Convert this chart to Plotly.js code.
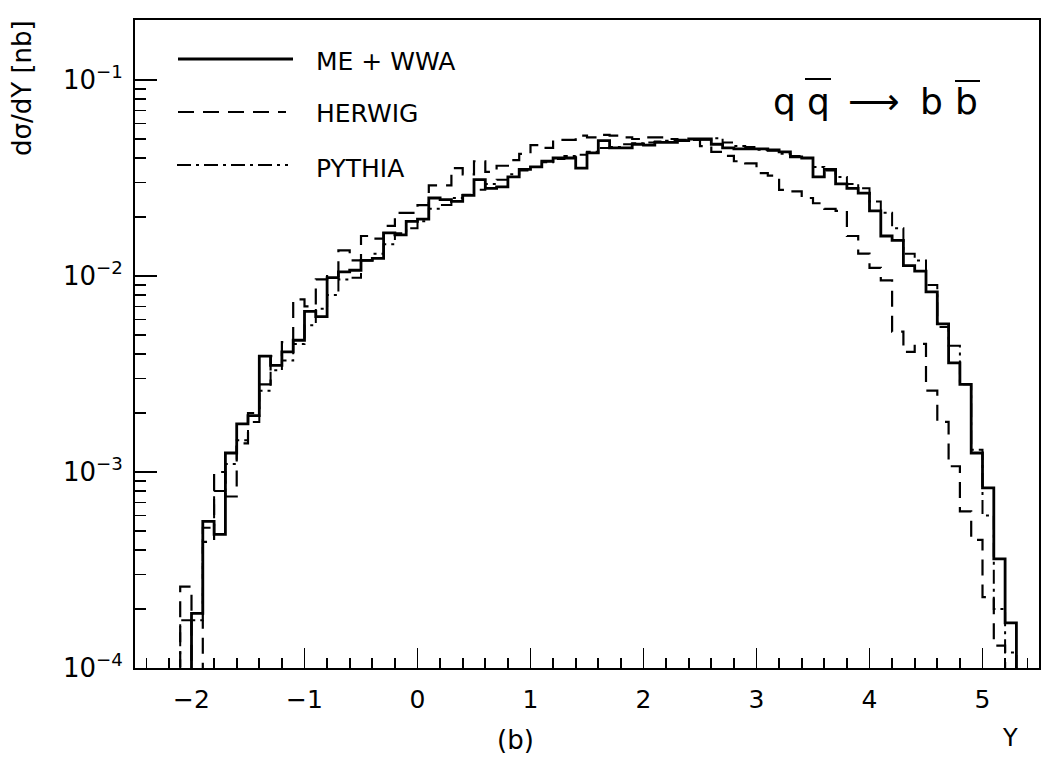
<!DOCTYPE html>
<html>
<head>
<meta charset="utf-8">
<script src="https://cdn.plot.ly/plotly-3.0.1.min.js"></script>
<style>
  html, body { margin: 0; padding: 0; background: #fff; }
  #chart { width: 1048px; height: 774px; }
</style>
</head>
<body>
<div id="chart"></div>
<script>
// Rapidity distribution dσ/dY for q q̄ → b b̄, three generators, 0.1-wide bins
const binStart = -2.2;
const binWidth = 0.1;

// bin contents [nb], bins from -2.2 to 5.4 (0 = empty bin)
const meWwa = [
  0, 0, 1.9e-4, 5.6e-4, 4.8e-4, 1.25e-3, 1.76e-3, 1.94e-3, 3.9e-3, 3.5e-3,
  4.1e-3, 4.7e-3, 6.6e-3, 6.2e-3, 9.8e-3, 1.05e-2, 1.07e-2, 1.2e-2, 1.23e-2, 1.66e-2,
  1.62e-2, 1.9e-2, 1.95e-2, 2.5e-2, 2.45e-2, 2.4e-2, 2.58e-2, 3.1e-2, 2.8e-2, 2.85e-2,
  3.2e-2, 3.5e-2, 3.6e-2, 3.85e-2, 4.0e-2, 4.0e-2, 3.55e-2, 4.25e-2, 4.9e-2, 4.5e-2,
  4.5e-2, 4.7e-2, 4.65e-2, 4.8e-2, 4.8e-2, 4.9e-2, 5.0e-2, 5.0e-2, 4.7e-2, 4.5e-2,
  4.45e-2, 4.45e-2, 4.45e-2, 4.4e-2, 4.3e-2, 4.05e-2, 4.0e-2, 3.2e-2, 3.5e-2, 2.95e-2,
  2.8e-2, 2.65e-2, 2.15e-2, 1.6e-2, 1.52e-2, 1.13e-2, 1.06e-2, 8.3e-3, 5.7e-3, 3.6e-3,
  2.8e-3, 1.25e-3, 8.3e-4, 3.6e-4, 1.7e-4, 0
];
const herwig = [
  0, 2.6e-4, 0, 4.4e-4, 1.0e-3, 7.5e-4, 1.4e-3, 2.0e-3, 2.8e-3, 3.9e-3,
  4.6e-3, 7.6e-3, 7.0e-3, 9.6e-3, 1.0e-2, 1.35e-2, 1.2e-2, 1.6e-2, 1.55e-2, 1.8e-2,
  2.1e-2, 2.1e-2, 2.3e-2, 2.9e-2, 2.9e-2, 3.55e-2, 3.3e-2, 3.85e-2, 3.4e-2, 3.65e-2,
  3.9e-2, 4.2e-2, 4.65e-2, 4.5e-2, 4.95e-2, 4.95e-2, 5.2e-2, 5.1e-2, 5.25e-2, 5.2e-2,
  5.1e-2, 5.0e-2, 5.1e-2, 5.1e-2, 5.0e-2, 4.9e-2, 4.95e-2, 4.6e-2, 4.3e-2, 4.1e-2,
  3.85e-2, 3.75e-2, 3.35e-2, 3.25e-2, 2.75e-2, 2.7e-2, 2.5e-2, 2.35e-2, 2.2e-2, 2.15e-2,
  1.6e-2, 1.3e-2, 1.1e-2, 9.5e-3, 5.2e-3, 4.1e-3, 4.5e-3, 2.6e-3, 1.8e-3, 1.07e-3,
  6.3e-4, 4.5e-4, 2.3e-4, 1.3e-4, 0, 0
];
const pythia = [
  0, 1.75e-4, 1.75e-4, 5.2e-4, 8.0e-4, 1.1e-3, 1.45e-3, 1.8e-3, 2.6e-3, 3.3e-3,
  3.7e-3, 4.5e-3, 5.6e-3, 6.8e-3, 8.0e-3, 9.6e-3, 9.8e-3, 1.2e-2, 1.3e-2, 1.45e-2,
  1.65e-2, 1.75e-2, 1.9e-2, 2.2e-2, 2.3e-2, 2.5e-2, 2.6e-2, 2.75e-2, 2.95e-2, 3.1e-2,
  3.3e-2, 3.45e-2, 3.6e-2, 3.8e-2, 3.95e-2, 4.1e-2, 4.15e-2, 4.3e-2, 4.5e-2, 4.55e-2,
  4.7e-2, 4.75e-2, 4.8e-2, 4.85e-2, 4.9e-2, 4.95e-2, 5.0e-2, 4.95e-2, 5.05e-2, 4.8e-2,
  4.6e-2, 4.55e-2, 4.4e-2, 4.35e-2, 4.2e-2, 4.1e-2, 4.0e-2, 3.6e-2, 3.45e-2, 3.2e-2,
  2.95e-2, 2.8e-2, 2.4e-2, 2.1e-2, 1.75e-2, 1.3e-2, 1.2e-2, 9.0e-3, 5.5e-3, 4.4e-3,
  2.8e-3, 1.3e-3, 6.0e-4, 2.0e-4, 1.2e-4, 0
];

const seriesNames = ['ME + WWA', 'HERWIG', 'PYTHIA'];
const xTickVals = [-2, -1, 0, 1, 2, 3, 4, 5];
const xTickText = ['\u22122', '\u22121', '0', '1', '2', '3', '4', '5'];
const yTickVals = [1e-4, 1e-3, 1e-2, 1e-1];
const yTickText = ['10<sup>\u22124</sup>', '10<sup>\u22123</sup>', '10<sup>\u22122</sup>', '10<sup>\u22121</sup>'];

// empty bins are drawn far below the visible range so the step drops out of view
const FLOOR = 1e-7;

function stepTrace(values, name, dash, width) {
  const xs = [], ys = [];
  for (let i = 0; i <= values.length; i++) {
    xs.push(+(binStart + i * binWidth).toFixed(4));
    const v = values[Math.min(i, values.length - 1)];
    ys.push(v > 0 ? v : FLOOR);
  }
  return {
    type: 'scatter', mode: 'lines', name: name,
    x: xs, y: ys,
    line: { shape: 'hv', color: '#000', width: width, dash: dash },
    showlegend: false, hoverinfo: 'skip'
  };
}

const DASH = '16px,9px';
const DASHDOT = '14px,5px,3px,5px';
const W_SOLID = 2.8, W_DASH = 2.2, W_DASHDOT = 2;

const traces = [
  stepTrace(herwig, seriesNames[1], DASH, W_DASH),
  stepTrace(pythia, seriesNames[2], DASHDOT, W_DASHDOT),
  stepTrace(meWwa, seriesNames[0], 'solid', W_SOLID)
];

const fontFam = 'DejaVu Sans, Liberation Sans, Arial, sans-serif';

// plot-area geometry helpers (paper coordinates from pixel offsets)
const M = { l: 135, r: 9, t: 20, b: 106 };
const W = 1048 - M.l - M.r, H = 774 - M.t - M.b;
const px = x => (x - M.l) / W;
const py = y => 1 - (y - M.t) / H;

const legendRows = [
  { name: seriesNames[0], dash: 'solid', width: W_SOLID, x0: 178, x1: 293, y: 59, ty: 62 },
  { name: seriesNames[1], dash: DASH, width: W_DASH, x0: 178, x1: 286, y: 112, ty: 114 },
  { name: seriesNames[2], dash: DASHDOT, width: W_DASHDOT, x0: 177, x1: 288, y: 165, ty: 168 }
];

const shapes = [];
const annotations = [];
legendRows.forEach(r => {
  shapes.push({
    type: 'line', xref: 'paper', yref: 'paper',
    x0: px(r.x0), x1: px(r.x1), y0: py(r.y), y1: py(r.y),
    line: { color: '#000', width: r.width, dash: r.dash }
  });
  annotations.push({
    xref: 'paper', yref: 'paper', x: px(314), y: py(r.ty),
    xanchor: 'left', yanchor: 'middle', showarrow: false,
    text: r.name, font: { family: fontFam, size: 25, color: '#000' }
  });
});

// process label  q q̄ → b b̄
const procFont = { family: fontFam, size: 36, color: '#000' };
[['q', 784], ['q', 818], ['\u27F6', 874], ['b', 931], ['b', 966]].forEach(([t, x]) => {
  annotations.push({
    xref: 'paper', yref: 'paper', x: px(x), y: py(101),
    xanchor: 'center', yanchor: 'middle', showarrow: false,
    text: t, font: procFont
  });
});
// bars over the antiparticles
[[805, 831, 79], [955, 980, 81]].forEach(([a, b, y]) => {
  shapes.push({
    type: 'line', xref: 'paper', yref: 'paper',
    x0: px(a), x1: px(b), y0: py(y), y1: py(y),
    line: { color: '#000', width: 2 }
  });
});

// axis titles and panel tag
annotations.push({
  xref: 'paper', yref: 'paper', x: px(22), y: py(88),
  xanchor: 'center', yanchor: 'middle', showarrow: false, textangle: -90,
  text: 'd\u03C3/dY [nb]', font: { family: fontFam, size: 26, color: '#000' }
});
annotations.push({
  xref: 'paper', yref: 'paper', x: px(1010), y: py(738),
  xanchor: 'center', yanchor: 'middle', showarrow: false,
  text: 'Y', font: { family: fontFam, size: 24, color: '#000' }
});
annotations.push({
  xref: 'paper', yref: 'paper', x: px(515), y: py(740),
  xanchor: 'center', yanchor: 'middle', showarrow: false,
  text: '(b)', font: { family: fontFam, size: 26, color: '#000' }
});

const layout = {
  width: 1048, height: 774,
  margin: M,
  paper_bgcolor: '#fff', plot_bgcolor: '#fff',
  showlegend: false,
  font: { family: fontFam, color: '#000' },
  xaxis: {
    range: [-2.5, 5.5], showgrid: false, zeroline: false,
    showline: true, linecolor: '#000', linewidth: 2, mirror: true,
    tickmode: 'array', tickvals: xTickVals, ticktext: xTickText,
    ticks: 'inside', ticklen: 20, tickwidth: 1.6, tickcolor: '#000',
    ticklabelstandoff: 8,
    tickfont: { family: fontFam, size: 25, color: '#000' },
    minor: { dtick: 0.2, tick0: 0, ticks: 'inside', ticklen: 10, tickwidth: 1.6, tickcolor: '#000', showgrid: false }
  },
  yaxis: {
    type: 'log', range: [-4, -0.694], showgrid: false, zeroline: false,
    showline: true, linecolor: '#000', linewidth: 2, mirror: true,
    tickmode: 'array', tickvals: yTickVals, ticktext: yTickText,
    ticks: 'inside', ticklen: 22, tickwidth: 1.6, tickcolor: '#000',
    ticklabelstandoff: 5,
    tickfont: { family: fontFam, size: 26, color: '#000' },
    minor: { dtick: 'D1', ticks: 'inside', ticklen: 11, tickwidth: 1.6, tickcolor: '#000', showgrid: false }
  },
  shapes: shapes,
  annotations: annotations
};

Plotly.newPlot('chart', traces, layout, { staticPlot: true, displayModeBar: false });
</script>
</body>
</html>
